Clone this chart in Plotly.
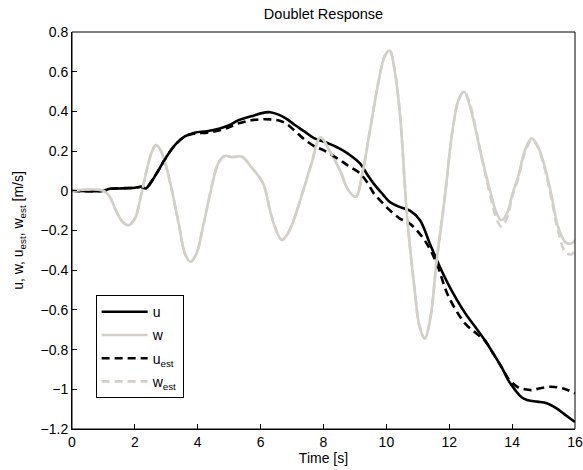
import plotly.graph_objects as go

# ---- data ----
t_u = [0, 1.0, 1.2, 1.6, 2.0, 2.2, 2.35, 2.5, 2.7, 3.0, 3.3, 3.6, 3.9, 4.3, 4.7, 5.0, 5.3, 5.7, 6.0, 6.3,
       6.55, 6.8, 7.1, 7.4, 7.7, 8.0, 8.5, 8.8, 9.16, 9.4, 9.6, 9.9, 10.1, 10.4, 10.75, 11.07, 11.38, 11.7,
       12.0, 12.5, 12.8, 13.13, 13.4, 13.66, 13.9, 14.1, 14.3, 14.5, 14.8, 15.1, 15.4, 15.7, 16.0]
u = [0, 0, 0.01, 0.012, 0.015, 0.02, 0.012, 0.04, 0.09, 0.17, 0.235, 0.275, 0.293, 0.30, 0.314, 0.33, 0.356,
     0.375, 0.39, 0.396, 0.385, 0.365, 0.33, 0.298, 0.265, 0.248, 0.214, 0.185, 0.138, 0.08, 0.035, -0.02,
     -0.055, -0.08, -0.10, -0.148, -0.265, -0.383, -0.48, -0.615, -0.68, -0.752, -0.82, -0.887, -0.96,
     -1.004, -1.04, -1.055, -1.062, -1.07, -1.095, -1.13, -1.165]

t_uest = [0, 1.0, 1.2, 2.0, 2.2, 2.35, 2.5, 2.7, 3.0, 3.3, 3.6, 3.9, 4.3, 4.7, 5.0, 5.3, 5.7, 6.0, 6.3, 6.55,
          6.8, 7.1, 7.4, 7.7, 8.0, 8.5, 8.8, 9.16, 9.4, 9.6, 9.9, 10.1, 10.43, 10.7, 10.96, 11.28, 11.6,
          11.97, 12.5, 12.8, 13.13, 13.4, 13.66, 13.9, 14.19, 14.4, 14.62, 14.9, 15.25, 15.6, 16.0]
u_est = [0, 0, 0.01, 0.015, 0.02, 0.012, 0.04, 0.09, 0.17, 0.235, 0.275, 0.288, 0.293, 0.305, 0.32, 0.34, 0.355,
         0.36, 0.36, 0.355, 0.34, 0.30, 0.258, 0.225, 0.205, 0.157, 0.125, 0.088, 0.04, -0.013, -0.065,
         -0.097, -0.14, -0.16, -0.198, -0.265, -0.366, -0.53, -0.668, -0.71, -0.755, -0.82, -0.887, -0.95,
         -0.99, -1.0, -1.004, -0.995, -0.987, -0.995, -1.02]

t_w = [0, 1.0, 1.2, 1.4, 1.6, 1.8, 2.0, 2.2, 2.4, 2.55, 2.67, 2.8, 3.0, 3.18, 3.4, 3.6, 3.77, 3.95, 4.17,
       4.4, 4.65, 4.85, 5.1, 5.4, 5.7, 6.08, 6.3, 6.45, 6.67, 6.85, 7.09, 7.35, 7.62, 7.9, 8.2, 8.52, 8.8,
       9.03, 9.25, 9.48, 9.75, 9.95, 10.11, 10.25, 10.43, 10.66, 10.9, 11.05, 11.22, 11.4, 11.6, 11.86,
       12.1, 12.3, 12.47, 12.65, 12.85, 13.03, 13.3, 13.5, 13.66, 13.85, 14.0, 14.19, 14.4, 14.62, 14.8,
       15.04, 15.25, 15.46, 15.7, 15.89, 16.0]
w = [0, 0, -0.03, -0.10, -0.155, -0.173, -0.14, -0.02, 0.12, 0.20, 0.23, 0.21, 0.12, 0.0, -0.17, -0.32,
     -0.357, -0.32, -0.18, -0.01, 0.138, 0.175, 0.17, 0.172, 0.12, 0.037, -0.10, -0.18, -0.248, -0.22,
     -0.13, 0.0, 0.138, 0.27, 0.20, 0.104, 0.0, -0.03, 0.10, 0.306, 0.55, 0.68, 0.706, 0.62, 0.39, -0.131,
     -0.50, -0.68, -0.744, -0.64, -0.35, -0.03, 0.30, 0.46, 0.499, 0.43, 0.30, 0.171, 0.0, -0.11, -0.148,
     -0.11, -0.02, 0.07, 0.20, 0.264, 0.23, 0.121, -0.02, -0.18, -0.26, -0.265, -0.248]

t_west = t_w
w_est = [0, 0, -0.03, -0.10, -0.155, -0.173, -0.14, -0.02, 0.12, 0.20, 0.23, 0.21, 0.12, 0.0, -0.17, -0.32,
         -0.357, -0.32, -0.18, -0.01, 0.138, 0.175, 0.17, 0.172, 0.12, 0.037, -0.10, -0.18, -0.248, -0.22,
         -0.13, 0.0, 0.138, 0.27, 0.20, 0.104, 0.0, -0.03, 0.10, 0.306, 0.55, 0.68, 0.706, 0.62, 0.39, -0.131,
         -0.50, -0.68, -0.744, -0.64, -0.35, -0.03, 0.30, 0.46, 0.499, 0.44, 0.31, 0.17, -0.02, -0.14, -0.18,
         -0.13, -0.03, 0.06, 0.19, 0.255, 0.225, 0.11, -0.04, -0.20, -0.31, -0.32, -0.30]

x_ticks = [0, 2, 4, 6, 8, 10, 12, 14, 16]
y_ticks = [0.8, 0.6, 0.4, 0.2, 0, -0.2, -0.4, -0.6, -0.8, -1, -1.2]
y_ticklabels = ["0.8", "0.6", "0.4", "0.2", "0", "\u22120.2", "\u22120.4", "\u22120.6", "\u22120.8", "\u22121", "\u22121.2"]

BLACK = "#000000"
GRAY = "#d3cfc9"
LW = 2.6
FONT = "Liberation Sans, Arial, sans-serif"
FS = 14

fig = go.Figure()
fig.add_trace(go.Scatter(x=t_u, y=u, mode="lines", name="u", legendgroup="a",
                         line=dict(color=BLACK, width=LW, shape="spline")))
fig.add_trace(go.Scatter(x=t_w, y=w, mode="lines", name="w", legendgroup="b",
                         line=dict(color=GRAY, width=LW, shape="spline")))
fig.add_trace(go.Scatter(x=t_uest, y=u_est, mode="lines", name="u<sub>est</sub>", legendgroup="c",
                         line=dict(color=BLACK, width=LW, shape="spline", dash="8px,5px")))
fig.add_trace(go.Scatter(x=t_west, y=w_est, mode="lines", name="w<sub>est</sub>", legendgroup="d",
                         line=dict(color=GRAY, width=LW, shape="spline", dash="8px,5px")))

axis_common = dict(
    showline=True, linecolor="#000000", linewidth=1,
    ticks="inside", ticklen=5, tickwidth=1, tickcolor="#000000",
    showgrid=False, zeroline=False, automargin=False, ticklabeloverflow="allow",
    tickfont=dict(family=FONT, size=FS, color="#000000"),
)

fig.update_layout(
    width=583, height=470,
    margin=dict(l=72, r=8, t=32, b=41, autoexpand=False),
    paper_bgcolor="white", plot_bgcolor="white",
    font=dict(family=FONT, size=FS, color="#000000"),
    title=dict(text="Doublet Response", x=0.5, xref="paper", y=1, yref="container",
               yanchor="top", pad=dict(t=9), font=dict(size=14.5)),
    xaxis=dict(range=[0, 16], tickvals=x_ticks, title=dict(text="Time [s]", standoff=0, font=dict(size=FS)),
               **axis_common),
    yaxis=dict(range=[-1.2, 0.8], tickvals=y_ticks, ticktext=y_ticklabels,
               title=dict(text="u, w, u<sub>est</sub>, w<sub>est</sub> [m/s]", standoff=13, font=dict(size=FS)),
               **axis_common),
    # mirrored box axes (top / right) with inside ticks, no labels
    xaxis2=dict(range=[0, 16], tickvals=x_ticks, overlaying="x", side="top", anchor="y",
                showticklabels=False, **axis_common),
    yaxis2=dict(range=[-1.2, 0.8], tickvals=y_ticks, overlaying="y", side="right", anchor="x",
                showticklabels=False, **axis_common),
    showlegend=True,
    legend=dict(x=0.047, y=0.337, xanchor="left", yanchor="top",
                bordercolor="#000000", borderwidth=1, bgcolor="white",
                font=dict(size=FS), tracegroupgap=2, itemwidth=46),
    shapes=[dict(type="rect", xref="paper", yref="paper", x0=0, x1=1, y0=0, y1=1,
                 line=dict(color="#000000", width=1), fillcolor="rgba(0,0,0,0)", layer="above")],
)

fig.write_html("out.html")
